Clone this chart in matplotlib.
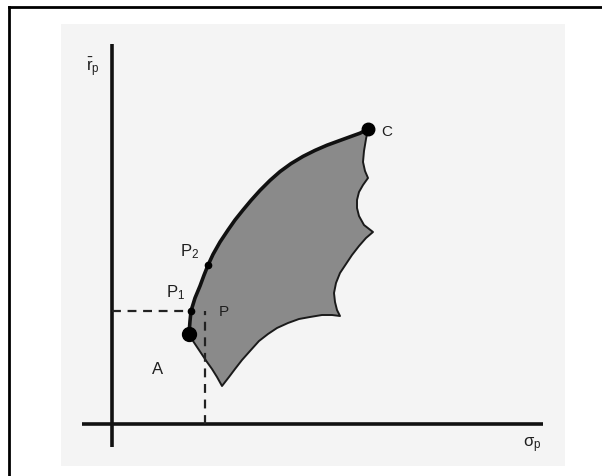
import matplotlib
matplotlib.use("Agg")
import matplotlib.pyplot as plt
from matplotlib.patches import Rectangle
from matplotlib.lines import Line2D

plt.rcParams['font.family'] = ['Liberation Sans', 'DejaVu Sans']
plt.rcParams['mathtext.fontset'] = 'custom'
plt.rcParams['mathtext.rm'] = 'Liberation Sans'
plt.rcParams['mathtext.it'] = 'Liberation Sans'

# efficient frontier, from the minimum-variance point up to C
frontier_sigma = [1.925, 1.95, 1.975, 2.075, 2.2, 2.3, 2.4, 2.525, 2.7, 2.9, 3.075, 3.275,
                  3.475, 3.7, 3.95, 4.2, 4.475, 4.775, 5.075, 5.375, 5.675, 5.95, 6.2, 6.4]
frontier_r = [2.25, 2.575, 2.825, 3.15, 3.45, 3.72, 3.97, 4.24, 4.55, 4.85, 5.1, 5.35,
              5.59, 5.84, 6.09, 6.31, 6.51, 6.69, 6.84, 6.97, 7.08, 7.18, 7.27, 7.375]

# rest of the feasible set boundary, from C round to the minimum-variance point
edge_sigma = [6.4, 6.35, 6.3, 6.275, 6.325, 6.4, 6.275, 6.175, 6.125, 6.125, 6.175, 6.3,
              6.525, 6.35, 6.175, 6.0, 5.85, 5.7, 5.6, 5.55, 5.575, 5.625, 5.7,
              5.5, 5.25, 4.95, 4.675, 4.4, 4.125, 3.9, 3.675, 3.45, 3.25, 3.075, 2.925, 2.75,
              2.625, 2.5, 2.375, 2.225, 2.075, 1.975, 1.925]
edge_r = [7.375, 7.125, 6.825, 6.55, 6.325, 6.15, 5.975, 5.8, 5.6, 5.4, 5.2, 4.975,
          4.8, 4.65, 4.45, 4.225, 4.0, 3.775, 3.525, 3.275, 3.05, 2.85, 2.7,
          2.725, 2.725, 2.675, 2.625, 2.525, 2.4, 2.25, 2.075, 1.825, 1.6, 1.375, 1.175, 0.95,
          1.175, 1.375, 1.55, 1.775, 2.0, 2.15, 2.25]

# marked portfolios
minvar = (1.925, 2.25)
point_c = (6.4, 7.375)
p1 = (1.975, 2.825)
p2 = (2.4, 3.97)
p_sigma = 2.325   # portfolio P inside the set, same return as P1

fig = plt.figure(figsize=(6.02, 4.77), dpi=100)
fig.patches.append(Rectangle((61 / 602, 10 / 477), 504 / 602, 442 / 477,
                             transform=fig.transFigure, facecolor='#f4f4f4',
                             edgecolor='none', zorder=-5))
fig.lines.append(Line2D([8.5 / 602, 1], [1 - 7.5 / 477] * 2, transform=fig.transFigure,
                        color='black', lw=2.0))
fig.lines.append(Line2D([8.5 / 602] * 2, [0, 1 - 7.5 / 477], transform=fig.transFigure,
                        color='black', lw=2.0))

ax = fig.add_axes([0, 0, 1, 1])
ax.set_xlim(-2.8, 12.25)
ax.set_ylim(-1.3, 10.625)
ax.axis('off')

# axes lines
ax.plot([-0.75, 10.78], [0, 0], color='#111111', lw=2.6, solid_capstyle='butt')
ax.plot([0, 0], [-0.58, 9.5], color='#111111', lw=2.6, solid_capstyle='butt')

# feasible set
fill_sigma = frontier_sigma + edge_sigma[1:]
fill_r = frontier_r + edge_r[1:]
ax.fill(fill_sigma, fill_r, facecolor='#8a8a8a', edgecolor='none', zorder=2)
ax.plot(edge_sigma, edge_r, color='#1a1a1a', lw=1.4, zorder=3)
ax.plot(frontier_sigma, frontier_r, color='#111111', lw=2.6, zorder=4,
        solid_capstyle='round')

# dashed guides
ax.plot([0, p1[0]], [p1[1], p1[1]], color='#222222', lw=1.6, dashes=(4, 3), zorder=5)
ax.plot([p_sigma, p_sigma], [0, p1[1]], color='#222222', lw=1.6, dashes=(4, 3), zorder=5)

# points
ax.plot(*minvar, 'o', color='black', ms=10, zorder=6)
ax.plot(*point_c, 'o', color='black', ms=9, zorder=6)
ax.plot(*p1, 'o', color='black', ms=4.5, zorder=6)
ax.plot(*p2, 'o', color='black', ms=4.5, zorder=6)

txt = dict(color='#1e1e1e', ha='center', va='center')
ax.text(6.88, 7.33, 'C', fontsize=11, **txt)
ax.text(1.60, 3.30, 'P$_1$', fontsize=12, **txt)
ax.text(1.95, 4.33, 'P$_2$', fontsize=12, **txt)
ax.text(2.80, 2.83, 'P', fontsize=11, zorder=7, **txt)
ax.text(1.15, 1.38, 'A', fontsize=12, **txt)
ax.text(10.50, -0.50, r'$\sigma_\mathrm{p}$', fontsize=12, **txt)
ax.text(-0.48, 8.95, r'$\bar{\mathrm{r}}_\mathrm{p}$', fontsize=12, **txt)

fig.savefig('out.png', dpi=100)
